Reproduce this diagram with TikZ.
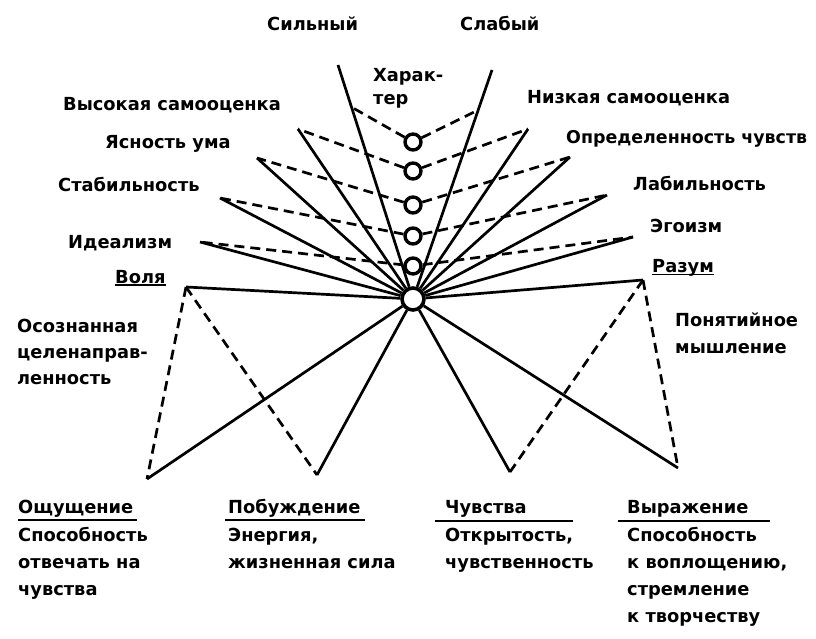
\documentclass[tikz,border=0pt]{standalone}
\usepackage{fontspec}
\setmainfont{DejaVu Sans}[BoldFeatures={FakeStretch=0.99}]
\usetikzlibrary{calc}
\tikzset{
  solidline/.style={line width=2.7pt},
  dashline/.style={line width=2.7pt, dash pattern=on 10pt off 6pt},
  ring/.style={circle, draw, line width=3.4pt, minimum size=16pt, inner sep=0pt},
  hub/.style={circle, draw, line width=3.6pt, minimum size=22pt, inner sep=0pt},
  lbl/.style={anchor=base west, inner sep=0pt, font=\fontsize{18}{27}\selectfont\bfseries},
  uline/.style={line width=1.4pt}
}
\begin{document}
\begin{tikzpicture}[x=1pt,y=-1pt]
\useasboundingbox (0,0) rectangle (816,639);
% centre and rings
\node[hub] (hub) at (413,299) {};
\node[ring] (c1) at (413,142) {};
\node[ring] (c2) at (413,171) {};
\node[ring] (c3) at (413,205) {};
\node[ring] (c4) at (413,236) {};
\node[ring] (c5) at (413,266) {};
% end points
\coordinate (s1) at (338,65);
\coordinate (s2) at (492,70);
\coordinate (j1l) at ($(s1)!0.18!(hub)$);
\coordinate (j1r) at ($(s2)!0.175!(hub)$);
\coordinate (l2) at (298,129);
\coordinate (l3) at (257,158);
\coordinate (l4) at (220,198);
\coordinate (l5) at (200,242);
\coordinate (r2) at (528,129);
\coordinate (r3) at (570,157);
\coordinate (r4) at (607,195);
\coordinate (r5) at (633,237);
\coordinate (w) at (186,287);
\coordinate (m) at (643,280);
\coordinate (b1) at (147,479);
\coordinate (b2) at (317,475);
\coordinate (b3) at (510,472);
\coordinate (b4) at (678,468);
% solid spokes
\foreach \p in {s1,s2,l2,l3,l4,l5,r2,r3,r4,r5,w,m,b1,b2,b3,b4}
  \draw[solidline] (hub) -- (\p);
% dashed links
\draw[dashline] (c1) -- (j1l);
\draw[dashline] (c1) -- (j1r);
\draw[dashline] (c2) -- (l2);
\draw[dashline] (c2) -- (r2);
\draw[dashline] (c3) -- (l3);
\draw[dashline] (c3) -- (r3);
\draw[dashline] (c4) -- (l4);
\draw[dashline] (c4) -- (r4);
\draw[dashline] (c5) -- (l5);
\draw[dashline] (c5) -- (r5);
\draw[dashline] (w) -- (b1);
\draw[dashline] (w) -- (b2);
\draw[dashline] (m) -- (b3);
\draw[dashline] (m) -- (b4);
% labels top
\node[lbl] (t1) at (267,31) {Сильный};
\node[lbl] (t2) at (460,31) {Слабый};
\node[lbl] (t3) at (373,82) {Харак-};
\node[lbl] (t4) at (373,105) {тер};
\node[lbl] (t5) at (63,111) {Высокая самооценка};
\node[lbl] (t6) at (105,149) {Ясность ума};
\node[lbl] (t7) at (58,192) {Стабильность};
\node[lbl] (t8) at (68,248) {Идеализм};
\node[lbl] (t9) at (527,104) {Низкая самооценка};
\node[lbl,font=\fontsize{17.6}{27}\selectfont\bfseries] (t10) at (566,144) {Определенность чувств};
\node[lbl] (t11) at (633,190) {Лабильность};
\node[lbl] (t12) at (650,233) {Эгоизм};
\node[lbl] (vol) at (115,283) {Воля};
\draw[uline] ([yshift=-2pt]vol.base west) -- ([yshift=-2pt]vol.base east);
\node[lbl] (raz) at (652,272) {Разум};
\draw[uline] ([yshift=-2.5pt]raz.base west) -- ([yshift=-2.5pt]raz.base east);
\node[lbl] (o1) at (17,332) {Осознанная};
\node[lbl] (o2) at (17,358) {целенаправ-};
\node[lbl] (o3) at (17,384) {ленность};
\node[lbl] (p1) at (675,326) {Понятийное};
\node[lbl] (p2) at (675,353) {мышление};
% bottom labels
\node[lbl] (a1) at (18,513) {Ощущение};
\draw[uline] (18,520) -- (137,520);
\node[lbl] (a2) at (18,541) {Способность};
\node[lbl] (a3) at (18,568) {отвечать на};
\node[lbl] (a4) at (18,595) {чувства};
\node[lbl] (e1) at (228,513) {Побуждение};
\draw[uline] (225,520) -- (365,520);
\node[lbl] (e2) at (228,541) {Энергия,};
\node[lbl] (e3) at (228,568) {жизненная сила};
\node[lbl] (f1) at (445,513) {Чувства};
\draw[uline] (435,521) -- (573,521);
\node[lbl] (f2) at (445,541) {Открытость,};
\node[lbl] (f3) at (445,568) {чувственность};
\node[lbl] (g1) at (627,513) {Выражение};
\draw[uline] (618,521) -- (770,521);
\node[lbl] (g2) at (627,541) {Способность};
\node[lbl] (g3) at (627,568) {к воплощению,};
\node[lbl] (g4) at (627,595) {стремление};
\node[lbl] (g5) at (627,622) {к творчеству};
\end{tikzpicture}
\end{document}
